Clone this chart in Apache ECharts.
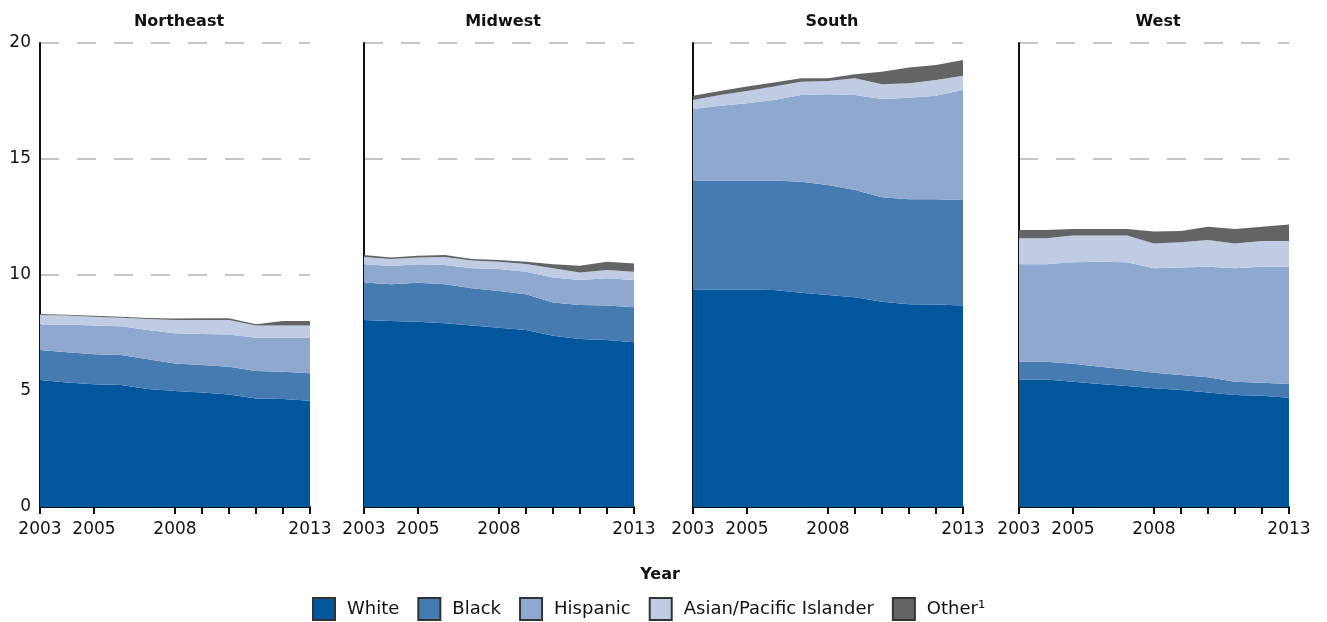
<!DOCTYPE html>
<html>
<head>
<meta charset="utf-8">
<script src="https://cdn.jsdelivr.net/npm/echarts@6/dist/echarts.min.js"></script>
<style>
  html, body { margin: 0; padding: 0; background: #fff; }
  #chart { width: 1327px; height: 622px; }
</style>
</head>
<body>
<div id="chart"></div>
<script>
// Years on the horizontal axis
const years = ['2003','2004','2005','2006','2007','2008','2009','2010','2011','2012','2013'];
const labelYears = ['2003','2005','2008','2013'];
const tickYears = ['2003','2005','2008','2009','2010','2011','2012','2013'];
const yTicks = [0, 5, 10, 15, 20];

const regions = ['Northeast', 'Midwest', 'South', 'West'];
const groups = ['White', 'Black', 'Hispanic', 'Asian/Pacific Islander', 'Other¹'];
const groupColors = ['#02569b', '#467bb2', '#8fa8cf', '#c0cce4', '#636466'];

// Northeast
const neWhite    = [5.47, 5.37, 5.29, 5.26, 5.09, 5.00, 4.94, 4.85, 4.68, 4.66, 4.58];
const neBlack    = [1.30, 1.30, 1.29, 1.29, 1.28, 1.19, 1.18, 1.20, 1.18, 1.17, 1.18];
const neHispanic = [1.10, 1.20, 1.24, 1.24, 1.26, 1.30, 1.34, 1.39, 1.44, 1.47, 1.54];
const neAsian    = [0.41, 0.38, 0.38, 0.37, 0.47, 0.57, 0.60, 0.62, 0.52, 0.52, 0.52];
const neOther    = [0.04, 0.04, 0.04, 0.04, 0.05, 0.07, 0.08, 0.08, 0.06, 0.20, 0.20];

// Midwest
const mwWhite    = [8.06, 8.02, 7.99, 7.92, 7.82, 7.73, 7.63, 7.38, 7.24, 7.20, 7.10];
const mwBlack    = [1.62, 1.58, 1.68, 1.68, 1.61, 1.58, 1.54, 1.44, 1.47, 1.48, 1.51];
const mwHispanic = [0.78, 0.79, 0.79, 0.83, 0.86, 0.95, 0.97, 1.07, 1.07, 1.18, 1.17];
const mwAsian    = [0.32, 0.30, 0.29, 0.35, 0.34, 0.31, 0.33, 0.40, 0.33, 0.36, 0.36];
const mwOther    = [0.08, 0.06, 0.08, 0.08, 0.06, 0.08, 0.10, 0.17, 0.29, 0.35, 0.36];

// South
const soWhite    = [9.38, 9.38, 9.38, 9.35, 9.24, 9.14, 9.04, 8.85, 8.74, 8.73, 8.68];
const soBlack    = [4.69, 4.69, 4.69, 4.72, 4.78, 4.74, 4.62, 4.50, 4.52, 4.53, 4.55];
const soHispanic = [3.09, 3.23, 3.33, 3.47, 3.74, 3.91, 4.10, 4.24, 4.38, 4.47, 4.74];
const soAsian    = [0.38, 0.46, 0.53, 0.58, 0.57, 0.57, 0.72, 0.63, 0.62, 0.68, 0.62];
const soOther    = [0.19, 0.17, 0.19, 0.18, 0.15, 0.12, 0.17, 0.54, 0.68, 0.64, 0.68];

// West
const weWhite    = [5.50, 5.50, 5.40, 5.30, 5.22, 5.12, 5.04, 4.93, 4.83, 4.80, 4.71];
const weBlack    = [0.76, 0.76, 0.77, 0.75, 0.71, 0.67, 0.65, 0.66, 0.57, 0.56, 0.59];
const weHispanic = [4.20, 4.20, 4.38, 4.52, 4.62, 4.50, 4.63, 4.77, 4.89, 5.00, 5.06];
const weAsian    = [1.12, 1.12, 1.15, 1.13, 1.15, 1.07, 1.09, 1.15, 1.07, 1.11, 1.11];
const weOther    = [0.36, 0.36, 0.28, 0.28, 0.28, 0.51, 0.49, 0.57, 0.62, 0.61, 0.71];

const regionData = [
  [neWhite, neBlack, neHispanic, neAsian, neOther],
  [mwWhite, mwBlack, mwHispanic, mwAsian, mwOther],
  [soWhite, soBlack, soHispanic, soAsian, soOther],
  [weWhite, weBlack, weHispanic, weAsian, weOther]
];

const FONT = 'DejaVu Sans';
const panelLefts = [40, 364, 693, 1019];
const panelWidth = 270;
const panelTop = 43;
const panelHeight = 464;

const grids = [], xAxes = [], yAxes = [], series = [], titles = [];

regions.forEach((name, r) => {
  grids.push({ left: panelLefts[r], top: panelTop, width: panelWidth, height: panelHeight });
  titles.push({
    text: name,
    left: panelLefts[r] + panelWidth / 2 - 1,
    top: 9,
    textAlign: 'center',
    textStyle: { fontFamily: FONT, fontSize: 16, fontWeight: 'bold', color: '#111' }
  });
  xAxes.push({
    type: 'category',
    gridIndex: r,
    data: years,
    boundaryGap: false,
    axisLine: { show: true, lineStyle: { color: '#111', width: 2 } },
    axisTick: {
      show: true, length: 7, inside: false,
      lineStyle: { color: '#111', width: 2 },
      interval: (i, v) => tickYears.includes(v)
    },
    axisLabel: {
      interval: (i, v) => labelYears.includes(v),
      margin: 14,
      fontFamily: FONT, fontSize: 17, color: '#111'
    },
    splitLine: { show: false }
  });
  yAxes.push({
    type: 'value',
    gridIndex: r,
    min: yTicks[0],
    max: yTicks[yTicks.length - 1],
    interval: 5,
    axisLine: { show: true, lineStyle: { color: '#111', width: 2 } },
    axisTick: { show: false },
    axisLabel: {
      show: r === 0,
      margin: 9,
      fontFamily: FONT, fontSize: 17, color: '#111'
    },
    splitLine: {
      show: true,
      lineStyle: { color: '#c6c6c6', width: 2, type: [19, 18] }
    }
  });
  groups.forEach((g, k) => {
    series.push({
      name: g,
      type: 'line',
      xAxisIndex: r,
      yAxisIndex: r,
      stack: 'region' + r,
      data: regionData[r][k],
      symbol: 'none',
      showSymbol: false,
      lineStyle: { width: 0 },
      areaStyle: { color: groupColors[k], opacity: 1 },
      itemStyle: { color: groupColors[k], borderColor: '#333', borderWidth: 1.5 },
      emphasis: { disabled: true },
      z: 2
    });
  });
});

titles.push({
  text: 'Year',
  left: 655,
  top: 562,
  textAlign: 'center',
  textStyle: { fontFamily: FONT, fontSize: 16, fontWeight: 'bold', color: '#111' }
});

const chart = echarts.init(document.getElementById('chart'), null, { renderer: 'canvas' });
chart.setOption({
  animation: false,
  backgroundColor: '#fff',
  title: titles,
  grid: grids,
  xAxis: xAxes,
  yAxis: yAxes,
  legend: {
    data: groups.map(g => ({ name: g, icon: 'rect' })),
    left: 312,
    top: 597,
    padding: 0,
    itemWidth: 22,
    itemHeight: 22,
    itemGap: 18,
    selectedMode: false,
    textStyle: { fontFamily: FONT, fontSize: 18, color: '#111', padding: [0, 0, 0, 7] }
  },
  series: series
});
</script>
</body>
</html>
